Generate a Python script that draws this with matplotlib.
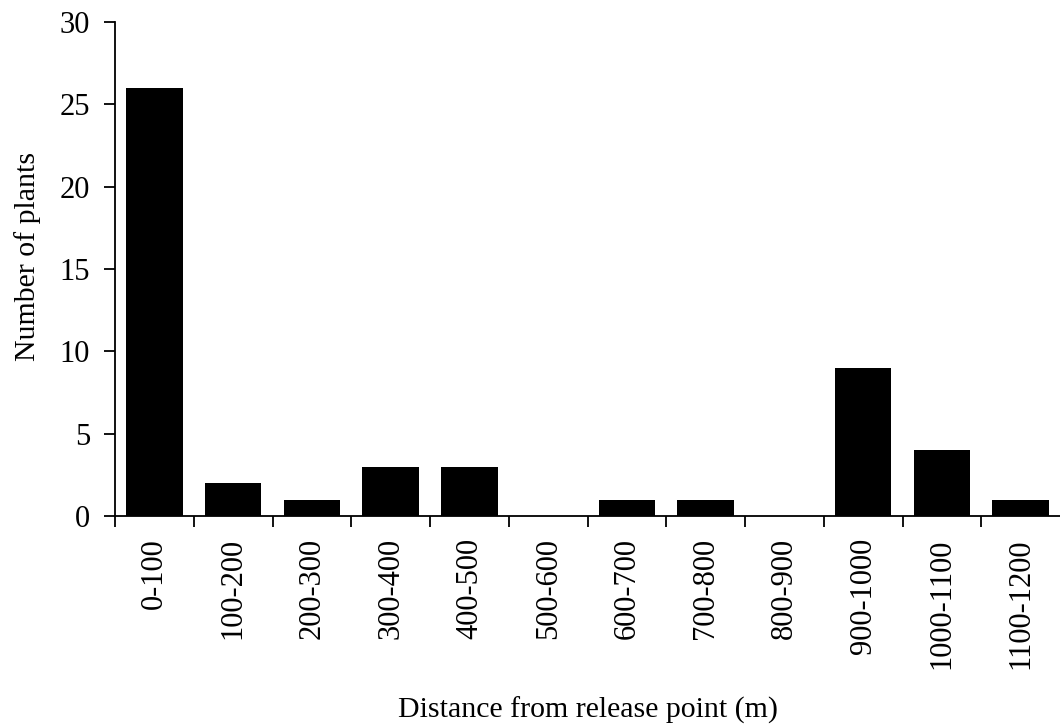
import matplotlib

matplotlib.use("Agg")
import matplotlib.pyplot as plt
import numpy as np

categories = ["0-100", "100-200", "200-300", "300-400", "400-500", "500-600",
              "600-700", "700-800", "800-900", "900-1000", "1000-1100", "1100-1200"]
plants = [26, 2, 1, 3, 3, 0, 1, 1, 0, 9, 4, 1]

plt.rcParams["font.family"] = ["Liberation Serif", "DejaVu Serif"]

fig = plt.figure(figsize=(10.6, 7.26), dpi=100)
ax = fig.add_axes([0.1085, 0.2893, 0.8915, 0.6804])

x = np.arange(len(categories))
ax.bar(x, plants, width=0.72, color="black", edgecolor="black", linewidth=0)

ax.set_xlim(-0.5, len(categories) - 0.5)
ax.set_ylim(0, 30)
ax.set_yticks(range(0, 31, 5))

# ticks sit on the category boundaries, labels in the middle
ax.set_xticks(np.arange(-0.5, len(categories) - 1, 1.0))
ax.set_xticklabels([])
ax.set_xticks(x, minor=True)
ax.set_xticklabels(categories, minor=True, rotation=90, fontsize=22)
ax.tick_params(axis="x", which="minor", length=0, pad=16)
ax.tick_params(axis="x", which="major", direction="out", length=8, width=1.3)
ax.tick_params(axis="y", direction="out", length=8, width=1.3, labelsize=22, pad=10)

for side in ("top", "right"):
    ax.spines[side].set_visible(False)
for side in ("left", "bottom"):
    ax.spines[side].set_linewidth(1.3)

ax.set_ylabel("Number of plants", fontsize=21.5)
ax.yaxis.set_label_coords(-0.078, 0.525)
ax.set_xlabel("Distance from release point (m)", fontsize=21.5)
ax.xaxis.set_label_coords(0.5, -0.366)

fig.savefig("out.png", dpi=100)
